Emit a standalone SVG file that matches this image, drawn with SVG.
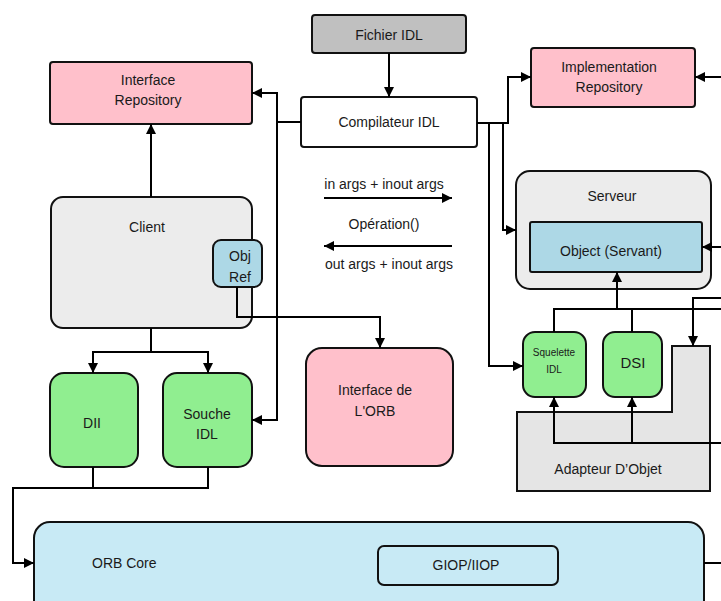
<svg xmlns="http://www.w3.org/2000/svg" width="721" height="601" viewBox="0 0 721 601">
<style>
.box{stroke:#111;stroke-width:2}
.t{font-family:"Liberation Sans",Arial,sans-serif;font-size:14px;fill:#1a1a1a;text-anchor:middle}
.s{font-size:10px}
.c{fill:none;stroke:#000;stroke-width:2}
.a{marker-end:url(#arr)}
</style>
<defs>
<marker id="arr" viewBox="0 0 10 10" refX="10" refY="5" markerWidth="11" markerHeight="10" markerUnits="userSpaceOnUse" orient="auto">
<path d="M0,0 L10,5 L0,10 z" fill="#000"/>
</marker>
</defs>
<rect width="721" height="601" fill="#fff"/>

<g id="fichier-idl">
<rect class="box" x="312" y="15" width="154" height="38" rx="3" fill="#c0c0c0"/>
<text class="t" x="389" y="40">Fichier IDL</text>
</g>
<g id="compilateur-idl">
<rect class="box" x="301" y="97" width="176" height="50" rx="3" fill="#fff"/>
<text class="t" x="389" y="127">Compilateur IDL</text>
</g>
<g id="interface-repository">
<rect class="box" x="50" y="62" width="202" height="62" rx="3" fill="#ffc0cb"/>
<text class="t" x="148" y="85">Interface</text>
<text class="t" x="148" y="105">Repository</text>
</g>
<g id="implementation-repository">
<rect class="box" x="531" y="48" width="164" height="59" rx="3" fill="#ffc0cb"/>
<text class="t" x="609" y="72">Implementation</text>
<text class="t" x="609" y="92">Repository</text>
</g>
<g id="client">
<rect class="box" x="51" y="197" width="201" height="131" rx="12" fill="#ececec"/>
<text class="t" x="147" y="232">Client</text>
</g>
<g id="obj-ref">
<rect class="box" x="213" y="240" width="49" height="47" rx="8" fill="#add8e6"/>
<text class="t" x="240" y="261">Obj</text>
<text class="t" x="240" y="282">Ref</text>
</g>
<g id="dii">
<rect class="box" x="50" y="373" width="88" height="94" rx="14" fill="#90ee90"/>
<text class="t" x="92" y="428">DII</text>
</g>
<g id="souche-idl">
<rect class="box" x="163" y="373" width="89" height="94" rx="14" fill="#90ee90"/>
<text class="t" x="207" y="419">Souche</text>
<text class="t" x="207" y="439">IDL</text>
</g>
<g id="interface-orb">
<rect class="box" x="306" y="348" width="147" height="118" rx="16" fill="#ffc0cb"/>
<text class="t" x="375" y="395">Interface de</text>
<text class="t" x="375" y="416">L'ORB</text>
</g>
<g id="serveur">
<rect class="box" x="516" y="171" width="195" height="118" rx="14" fill="#ececec"/>
<text class="t" x="612" y="201">Serveur</text>
</g>
<g id="object-servant">
<rect class="box" x="530" y="222" width="172" height="50" rx="2" fill="#add8e6"/>
<text class="t" x="611" y="256">Object (Servant)</text>
</g>
<g id="adapteur-objet">
<polygon class="box" points="517,412 672,412 672,346 710,346 710,491 517,491" fill="#e5e5e5"/>
<text class="t" x="608" y="474">Adapteur D’Objet</text>
</g>
<g id="squelette-idl">
<rect class="box" x="523" y="332" width="63" height="65" rx="12" fill="#90ee90"/>
<text class="t s" x="554" y="356">Squelette</text>
<text class="t s" x="554" y="373">IDL</text>
</g>
<g id="dsi">
<rect class="box" x="603" y="332" width="59" height="65" rx="12" fill="#90ee90"/>
<text class="t" x="633" y="368" style="font-size:15px">DSI</text>
</g>
<g id="orb-core">
<rect class="box" x="34" y="522" width="670" height="100" rx="16" fill="#c8eaf5"/>
<text class="t" x="92" y="568" style="text-anchor:start">ORB Core</text>
</g>
<g id="giop-iiop">
<rect class="box" x="378" y="546" width="180" height="39" rx="6" fill="#c8eaf5"/>
<text class="t" x="466" y="570">GIOP/IIOP</text>
</g>

<g id="labels">
<text class="t" x="384" y="189">in args + inout args</text>
<text class="t" x="384" y="229">Opération()</text>
<text class="t" x="389" y="269">out args + inout args</text>
</g>

<g id="connectors">
<path class="c a" d="M389,53 V97"/>
<path class="c a" d="M301,122 H277 V93 H252"/>
<path class="c a" d="M277,122 V420 H252"/>
<path class="c a" d="M151,197 V124"/>
<path class="c a" d="M151,328 V352 H93 V373"/>
<path class="c a" d="M151,352 H208 V373"/>
<path class="c a" d="M237,287 V317 H380 V348"/>
<path class="c a" d="M477,123 H508 V77 H531"/>
<path class="c a" d="M721,77 H695"/>
<path class="c a" d="M489,123 V366 H523"/>
<path class="c a" d="M503,123 V230 H516"/>
<path class="c a" d="M721,247 H702"/>
<path class="c" d="M554,332 V309 H721"/>
<path class="c" d="M632,332 V309"/>
<path class="c a" d="M617,309 V272"/>
<path class="c a" d="M721,298 H693 V346"/>
<path class="c a" d="M721,443 H554 V397"/>
<path class="c a" d="M632,443 V397"/>
<path class="c a" d="M324,198 H452"/>
<path class="c a" d="M452,246 H324"/>
<path class="c" d="M93,467 V488"/>
<path class="c a" d="M208,467 V488 H13 V563 H34"/>
<path class="c" d="M704,563 H721"/>
</g>
</svg>
